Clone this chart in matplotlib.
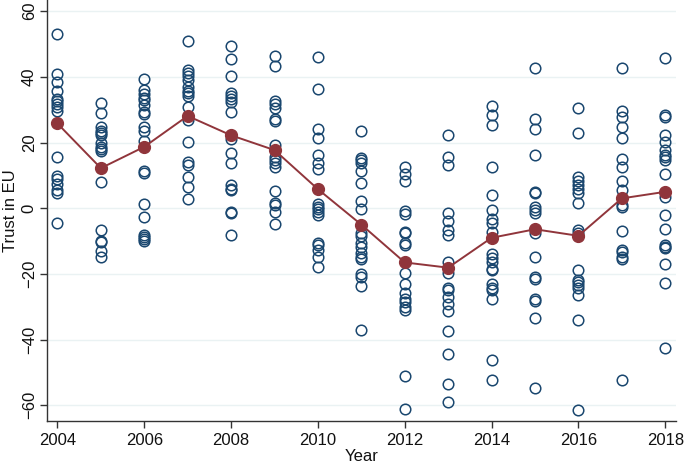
import numpy as np
import matplotlib
matplotlib.use('Agg')
import matplotlib.pyplot as plt

plt.rcParams['font.family'] = ['Liberation Sans', 'DejaVu Sans']

# country-level trust values per year
years = list(range(2004, 2019))
trust = {
    2004: [53.2, 40.8, 38.4, 35.6, 33.3, 32.5, 31.7, 30.7, 29.7, 15.5, 9.8, 8.8, 7.4, 5.4, 4.6, -4.6],
    2005: [32.1, 29.1, 24.6, 23.6, 22.8, 22.2, 19.8, 18.7, 17.9, 17.5, 8.0, -6.6, -10.0, -10.4, -12.9, -14.7],
    2006: [39.2, 36.0, 34.7, 33.7, 32.9, 31.3, 29.3, 28.7, 24.8, 23.6, 20.6, 11.2, 10.8, 1.2, -2.7,
           -8.0, -8.8, -9.5, -10.1],
    2007: [50.9, 42.0, 41.2, 40.4, 39.0, 37.0, 35.7, 35.1, 34.3, 30.7, 26.8, 20.2, 14.1, 13.3, 9.6, 6.6, 2.7],
    2008: [49.3, 45.3, 40.2, 35.1, 34.3, 33.3, 32.3, 29.3, 21.2, 16.7, 13.9, 7.0, 6.0, 5.4, -1.0, -1.3, -8.0],
    2009: [46.5, 43.3, 32.5, 31.7, 30.5, 27.2, 26.6, 19.1, 15.7, 14.7, 13.7, 12.6, 5.2, 1.7, 1.1, -1.2, -4.9],
    2010: [45.9, 36.4, 24.2, 21.4, 16.1, 13.7, 12.0, 1.2, 0.5, -0.3, -1.1, -2.1, -10.5, -11.1, -12.7,
           -14.9, -17.8],
    2011: [23.6, 15.3, 14.7, 13.9, 11.2, 7.8, 2.1, -0.1, -7.6, -8.6, -10.6, -11.7, -13.7, -14.9, -15.5,
           -20.0, -20.8, -23.6, -37.0],
    2012: [12.6, 10.4, 8.2, -0.7, -1.9, -7.2, -7.6, -10.6, -11.1, -19.8, -23.0, -25.7, -27.5, -28.5,
           -30.1, -31.1, -51.0, -61.1],
    2013: [22.2, 15.7, 13.1, -1.5, -4.0, -6.5, -8.1, -16.3, -19.6, -24.2, -24.8, -27.1, -29.1, -31.3,
           -37.4, -44.3, -53.4, -59.1],
    2014: [31.1, 28.3, 25.2, 12.5, 4.1, -0.6, -3.2, -4.5, -7.3, -13.9, -15.3, -16.3, -18.4, -18.8,
           -23.2, -24.2, -25.0, -27.5, -46.3, -52.4],
    2015: [42.6, 27.2, 24.0, 16.3, 5.0, 4.6, 0.5, -0.5, -1.3, -7.6, -14.7, -21.0, -21.4, -27.7, -28.3,
           -33.3, -54.8],
    2016: [30.5, 23.0, 9.6, 8.2, 7.0, 6.0, 4.6, 1.6, -6.7, -7.5, -18.8, -21.8, -22.6, -23.4, -24.2,
           -26.4, -34.0, -61.3],
    2017: [42.6, 29.7, 27.7, 24.8, 21.4, 15.1, 12.6, 8.2, 5.6, 0.9, 0.3, -6.8, -12.7, -13.3, -14.9,
           -15.5, -52.2],
    2018: [45.7, 28.5, 27.7, 22.4, 20.2, 17.7, 16.3, 15.5, 14.7, 10.4, 3.5, -2.1, -6.2, -11.1, -11.7,
           -12.1, -17.1, -22.8, -42.5],
}
# yearly mean (red line)
mean_trust = [25.8, 12.2, 18.7, 28.1, 22.2, 17.7, 5.8, -5.0, -16.5, -18.1, -9.0, -6.4, -8.4, 3.0, 5.0]

fig = plt.figure(figsize=(6.85, 4.68), dpi=100)
ax = fig.add_axes([0.068, 0.101, 0.919, 0.899])

for yr in years:
    ax.plot([yr] * len(trust[yr]), trust[yr], linestyle='none', marker='o', markersize=7.6,
            markerfacecolor='none', markeredgecolor='#1a476f', markeredgewidth=1.1, zorder=2)

ax.plot(years, mean_trust, color='#90353b', linewidth=1.4, marker='o', markersize=8.5,
        markerfacecolor='#90353b', markeredgecolor='#90353b', zorder=3)

ax.set_xlim(2003.75, 2018.25)
ax.set_ylim(-64.7, 63.4)
ax.set_xticks(range(2004, 2019, 2))
ax.set_yticks(range(-60, 61, 20))
ax.grid(axis='y', color='#eaf2f3', linewidth=1.0, zorder=0)
ax.set_axisbelow(True)

for s in ['top', 'right']:
    ax.spines[s].set_visible(False)
for s in ['left', 'bottom']:
    ax.spines[s].set_color('#333333')
    ax.spines[s].set_linewidth(1.0)

ax.tick_params(axis='both', direction='out', length=5, width=1.0, color='#333333',
               labelsize=12, labelcolor='#111111')
ax.tick_params(axis='y', pad=2)
plt.setp(ax.get_yticklabels(), rotation=90, va='center')

ax.set_xlabel('Year', fontsize=12, color='#111111', labelpad=1)
ax.set_ylabel('Trust in EU', fontsize=12, color='#111111', labelpad=3)

fig.savefig('out.png', dpi=100)
